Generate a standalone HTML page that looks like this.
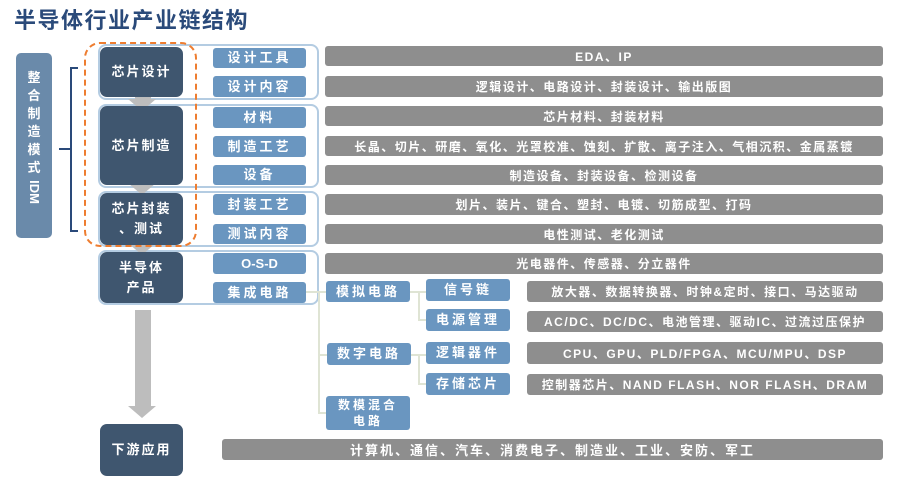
<!DOCTYPE html>
<html><head><meta charset="utf-8"><style>
body{margin:0;width:900px;height:487px;background:#fff;position:relative;overflow:hidden;font-family:"Liberation Sans","Noto Sans CJK SC",sans-serif;}
div{position:absolute;box-sizing:border-box;}
.t{left:14px;top:3px;font-size:22px;color:#2a4a7a;font-weight:bold;letter-spacing:1.5px;}
.dk{background:#3f566f;color:#fff;border-radius:7px;display:flex;align-items:center;justify-content:center;text-align:center;font-size:13px;font-weight:bold;letter-spacing:2px;line-height:20px;left:100px;width:83px;}
.md{background:#6a96c0;color:#fff;border-radius:3px;display:flex;align-items:center;justify-content:center;text-align:center;font-size:13px;font-weight:bold;letter-spacing:3px;line-height:18px;}
.gr{background:#8e8e8e;color:#fff;border-radius:3px;display:flex;align-items:center;justify-content:center;font-size:12px;font-weight:bold;letter-spacing:1.5px;}
.og{border:2px solid #b4cce2;border-radius:8px;left:98px;width:221px;}
.ln{background:#dfe4d4;}
.ar{width:16px;background:#bdbdbd;left:135px;}
.ah{width:0;height:0;border-left:14px solid transparent;border-right:14px solid transparent;border-top:12px solid #bdbdbd;left:128px;}
</style></head><body>
<div class="t">半导体行业产业链结构</div>
<div style="left:16px;top:53px;width:36px;height:185px;background:#6a8aaa;border-radius:5px;color:#fff;font-size:13px;font-weight:bold;text-align:center;line-height:18px;padding-top:16px;">整<br>合<br>制<br>造<br>模<br>式<br><span style="display:inline-block;transform:rotate(90deg);margin-top:6px">IDM</span></div>
<div style="left:70px;top:67px;width:8px;height:165px;border:2px solid #2a4a7a;border-right:none;"></div>
<div style="left:59px;top:148px;width:12px;height:2px;background:#2a4a7a;"></div>

<div class="og" style="top:44px;height:56px"></div>
<div class="og" style="top:104px;height:84px"></div>
<div class="og" style="top:191px;height:56px"></div>
<div class="og" style="top:250px;height:55px"></div>

<div class="ar" style="top:97px;height:4px"></div><div class="ah" style="top:99px"></div>
<div class="ar" style="top:183px;height:3px"></div><div class="ah" style="top:183px"></div>
<div class="ar" style="top:243px;height:3px"></div><div class="ah" style="top:243px"></div>
<div class="ar" style="top:310px;height:98px"></div><div class="ah" style="top:406px"></div>

<div class="dk" style="top:47px;height:50px">芯片设计</div>
<div class="dk" style="top:106px;height:79px">芯片制造</div>
<div class="dk" style="top:193px;height:52px">芯片封装<br>、测试</div>
<div class="dk" style="top:252px;height:51px">半导体<br>产品</div>
<div class="dk" style="top:424px;height:52px">下游应用</div>

<div style="left:84px;top:42px;width:113px;height:205px;border:2px dashed #ee7d30;border-radius:16px;"></div>

<div class="md" style="left:213px;width:93px;top:48px;height:20px">设计工具</div>
<div class="md" style="left:213px;width:93px;top:76px;height:21px">设计内容</div>
<div class="md" style="left:213px;width:93px;top:107px;height:21px">材料</div>
<div class="md" style="left:213px;width:93px;top:136px;height:21px">制造工艺</div>
<div class="md" style="left:213px;width:93px;top:165px;height:20px">设备</div>
<div class="md" style="left:213px;width:93px;top:194px;height:21px">封装工艺</div>
<div class="md" style="left:213px;width:93px;top:224px;height:20px">测试内容</div>
<div class="md" style="left:213px;width:93px;top:253px;height:21px;letter-spacing:0">O-S-D</div>
<div class="md" style="left:213px;width:93px;top:282px;height:21px">集成电路</div>

<div class="gr" style="left:325px;width:558px;top:46px;height:20px">EDA、IP</div>
<div class="gr" style="left:325px;width:558px;top:76px;height:21px">逻辑设计、电路设计、封装设计、输出版图</div>
<div class="gr" style="left:325px;width:558px;top:106px;height:20px">芯片材料、封装材料</div>
<div class="gr" style="left:325px;width:558px;top:136px;height:20px">长晶、切片、研磨、氧化、光罩校准、蚀刻、扩散、离子注入、气相沉积、金属蒸镀</div>
<div class="gr" style="left:325px;width:558px;top:165px;height:20px">制造设备、封装设备、检测设备</div>
<div class="gr" style="left:325px;width:558px;top:194px;height:21px">划片、装片、键合、塑封、电镀、切筋成型、打码</div>
<div class="gr" style="left:325px;width:558px;top:224px;height:20px">电性测试、老化测试</div>
<div class="gr" style="left:325px;width:558px;top:253px;height:21px">光电器件、传感器、分立器件</div>

<div class="ln" style="left:306px;top:291px;width:20px;height:2px"></div>
<div class="ln" style="left:318px;top:291px;width:2px;height:123px"></div>
<div class="ln" style="left:318px;top:354px;width:9px;height:2px"></div>
<div class="ln" style="left:318px;top:412px;width:9px;height:2px"></div>
<div class="ln" style="left:410px;top:291px;width:16px;height:2px"></div>
<div class="ln" style="left:418px;top:291px;width:2px;height:30px"></div>
<div class="ln" style="left:418px;top:319px;width:8px;height:2px"></div>
<div class="ln" style="left:411px;top:354px;width:15px;height:2px"></div>
<div class="ln" style="left:418px;top:354px;width:2px;height:31px"></div>
<div class="ln" style="left:418px;top:383px;width:8px;height:2px"></div>

<div class="md" style="left:326px;width:84px;top:281px;height:21px">模拟电路</div>
<div class="md" style="left:327px;width:84px;top:343px;height:22px">数字电路</div>
<div class="md" style="left:326px;width:84px;top:396px;height:34px;font-size:12px;line-height:16px">数模混合<br>电路</div>
<div class="md" style="left:426px;width:84px;top:279px;height:22px">信号链</div>
<div class="md" style="left:426px;width:84px;top:309px;height:22px">电源管理</div>
<div class="md" style="left:426px;width:84px;top:342px;height:22px">逻辑器件</div>
<div class="md" style="left:426px;width:84px;top:373px;height:22px">存储芯片</div>

<div class="gr" style="left:527px;width:356px;top:281px;height:21px">放大器、数据转换器、时钟&amp;定时、接口、马达驱动</div>
<div class="gr" style="left:527px;width:356px;top:311px;height:21px">AC/DC、DC/DC、电池管理、驱动IC、过流过压保护</div>
<div class="gr" style="left:527px;width:356px;top:342px;height:22px">CPU、GPU、PLD/FPGA、MCU/MPU、DSP</div>
<div class="gr" style="left:527px;width:356px;top:374px;height:21px">控制器芯片、NAND FLASH、NOR FLASH、DRAM</div>
<div class="gr" style="left:222px;width:661px;top:439px;height:21px;font-size:13px;letter-spacing:2px">计算机、通信、汽车、消费电子、制造业、工业、安防、军工</div>
</body></html>
